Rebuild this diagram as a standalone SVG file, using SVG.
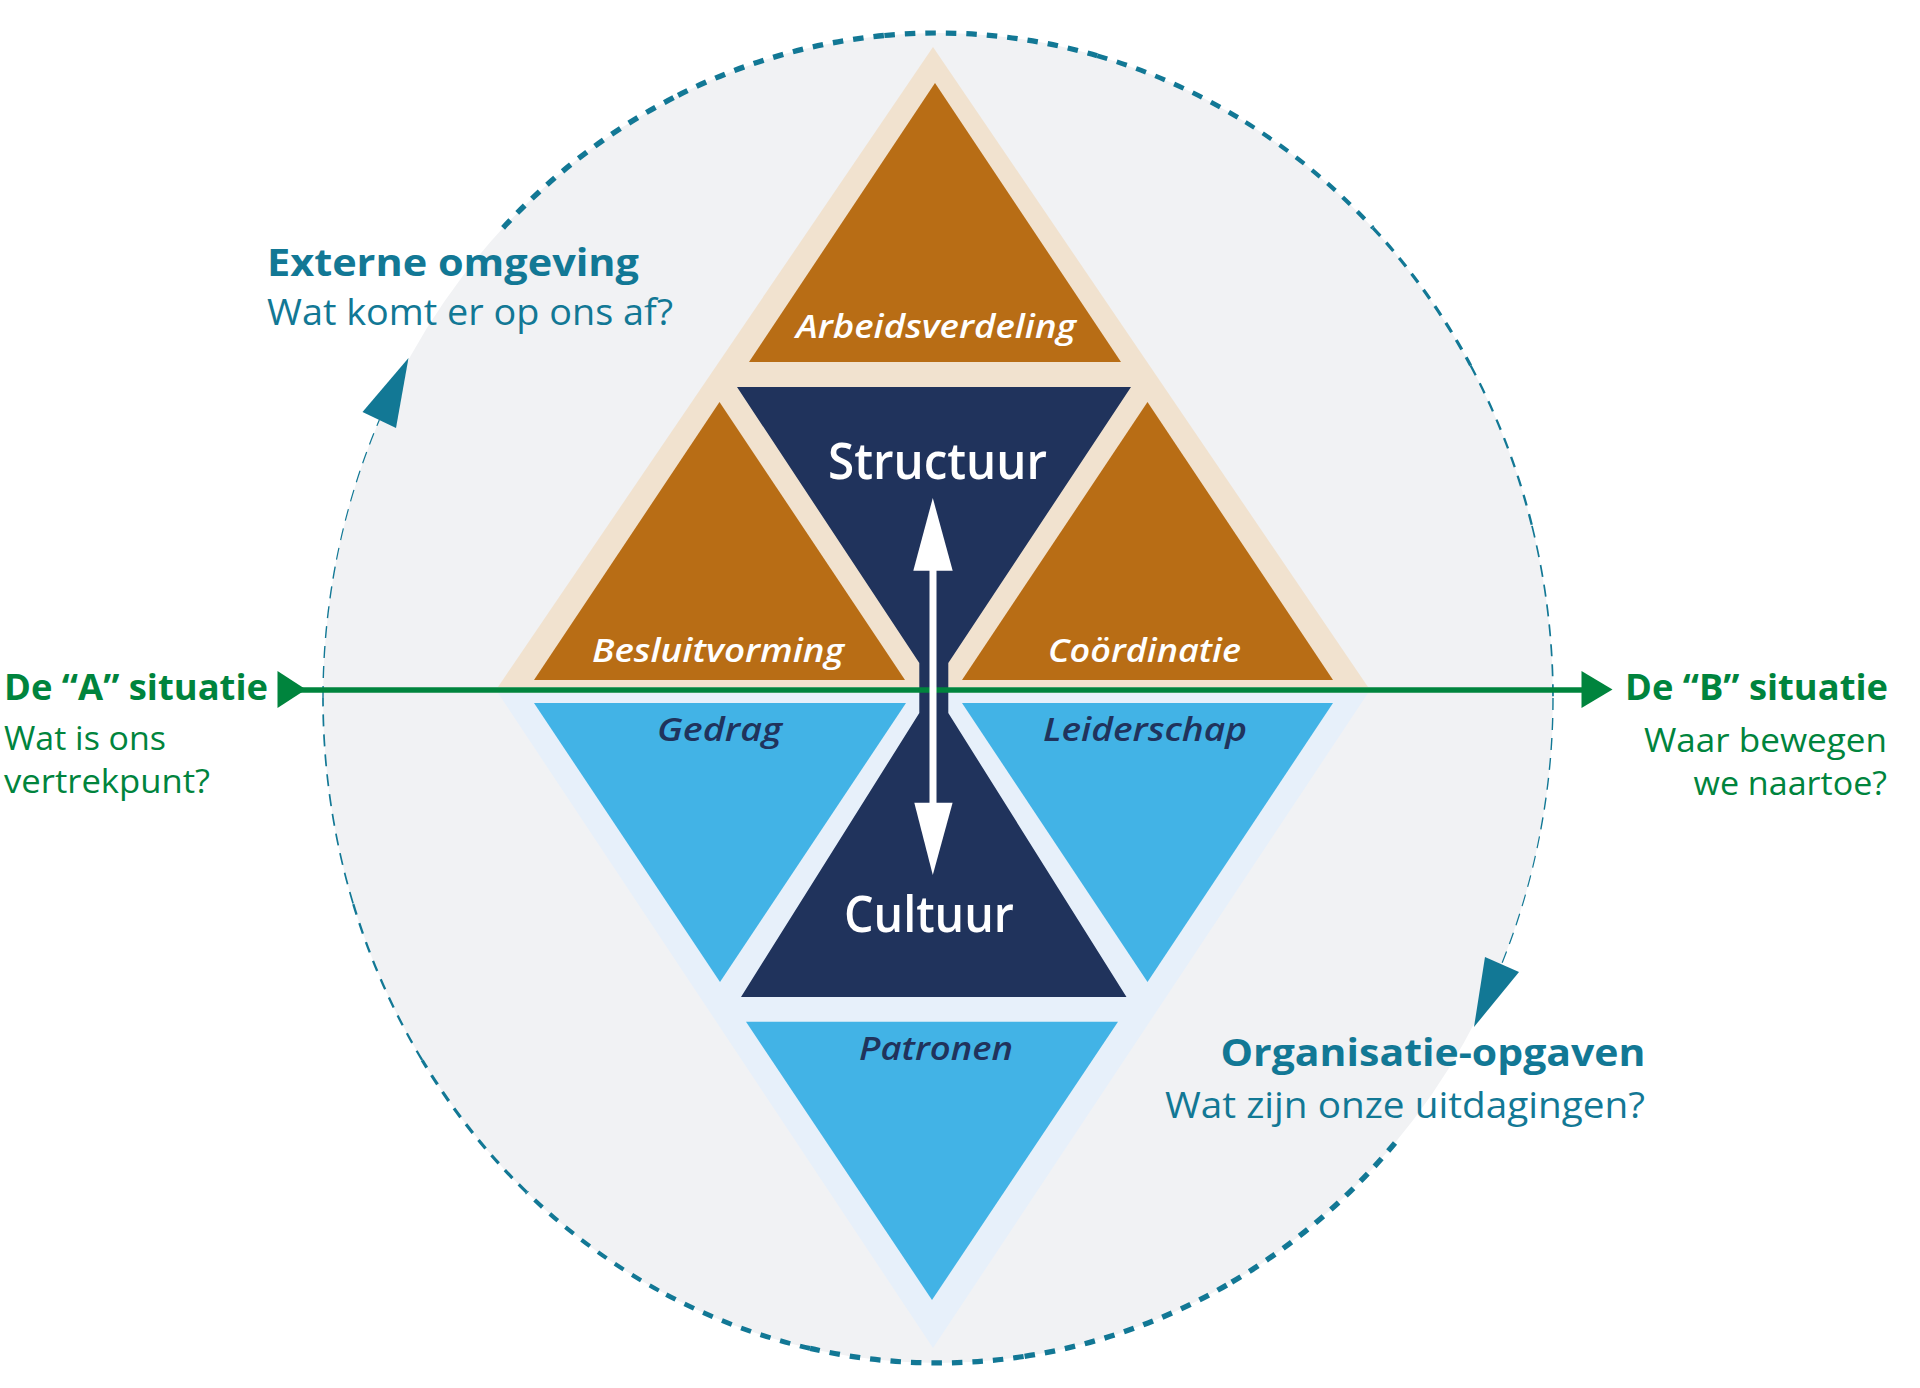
<svg xmlns="http://www.w3.org/2000/svg" width="1920" height="1388" viewBox="0 0 1920 1388">
  <style>
    text { font-family: "Open Sans", "Noto Sans", sans-serif; }
    .ring { fill: none; stroke: #127895; stroke-linecap: butt; }
    .d1 { stroke-dasharray: 10.5 10; }
    .d2 { stroke-dasharray: 11 9; }
    .d3 { stroke-dasharray: 12 8; }
    .beige { fill: #f1e2cf; }
    .pale { fill: #e7f0fa; }
    .orange { fill: #b86d15; }
    .navy { fill: #20335c; }
    .blue { fill: #42b3e6; }
    .lblw { fill: #ffffff; font-style: italic; font-weight: 600; font-size: 33px; }
    .lbln { fill: #20335c; font-style: italic; font-weight: 600; font-size: 33px; }
    .core { fill: #ffffff; font-weight: 600; font-size: 50px; }
    .tealH { fill: #127895; font-weight: 700; font-size: 38px; }
    .tealR { fill: #127895; font-weight: 400; font-size: 36px; }
    .greenH { fill: #00843d; font-weight: 700; font-size: 36px; }
    .greenR { fill: #00843d; font-weight: 400; font-size: 33px; }
  </style>

  <!-- background disc -->
  <ellipse id="disc" cx="938" cy="698" rx="615" ry="665" fill="#f1f2f4"/>

  <!-- cycle (dashed ring with arrowheads) -->
  <g id="cycle">
    <path class="ring d1" stroke-width="5.4" d="M503.1,227.8 A615,665 0 0 1 678.1,95.3"/>
    <path class="ring d1" stroke-width="5.4" d="M678.1,95.3 A615,665 0 0 1 884.4,35.5"/>
    <path class="ring d1" stroke-width="5.2" d="M884.4,35.5 A615,665 0 0 1 1097.2,55.7"/>
    <path class="ring d1" stroke-width="4.8" d="M1097.2,55.7 A615,665 0 0 1 1245.5,122.1"/>
    <path class="ring d1" stroke-width="4.2" d="M1245.5,122.1 A615,665 0 0 1 1372.9,227.8"/>
    <path class="ring d2" stroke-width="3.2" d="M1372.9,227.8 A615,665 0 0 1 1470.6,365.5"/>
    <path class="ring d2" stroke-width="2.3" d="M1470.6,365.5 A615,665 0 0 1 1532,525.9"/>
    <path class="ring d3" stroke-width="1.7" d="M1532,525.9 A615,665 0 0 1 1553,698"/>
    <path class="ring d3" stroke-width="1.4" d="M1553,698 A615,665 0 0 1 1539.5,836.3"/>
    <path class="ring d3" stroke-width="1.2" d="M1539.5,836.3 A615,665 0 0 1 1501.6,964.2"/>
    <polygon points="1485,957 1519,972 1474,1027" fill="#127895"/>

    <path class="ring d1" stroke-width="5.4" d="M1395,1143 A615,665 0 0 1 1226.7,1285.1"/>
    <path class="ring d1" stroke-width="5.4" d="M1226.7,1285.1 A615,665 0 0 1 1023.6,1356.5"/>
    <path class="ring d1" stroke-width="5.2" d="M1023.6,1356.5 A615,665 0 0 1 810.1,1348.4"/>
    <path class="ring d1" stroke-width="4.8" d="M810.1,1348.4 A615,665 0 0 1 658.8,1290.5"/>
    <path class="ring d1" stroke-width="4.2" d="M658.8,1290.5 A615,665 0 0 1 526.5,1192.2"/>
    <path class="ring d2" stroke-width="3.2" d="M526.5,1192.2 A615,665 0 0 1 422.2,1060.2"/>
    <path class="ring d2" stroke-width="2.3" d="M422.2,1060.2 A615,665 0 0 1 353.1,903.5"/>
    <path class="ring d3" stroke-width="1.7" d="M353.1,903.5 A615,665 0 0 1 323,698"/>
    <path class="ring d3" stroke-width="1.4" d="M323,698 A615,665 0 0 1 336.5,559.7"/>
    <path class="ring d3" stroke-width="1.2" d="M336.5,559.7 A615,665 0 0 1 379.3,420.1"/>
    <polygon points="362.5,412 396,428 408.5,358" fill="#127895"/>
  </g>

  <!-- outer bands -->
  <g id="structure-band">
    <polygon class="beige" points="933,47 1368,687 498,687"/>
  </g>
  <g id="culture-band">
    <polygon class="pale" points="498,693 1368,693 933,1348"/>
  </g>

  <g id="node-arbeidsverdeling">
    <polygon class="orange" points="935,83 1121,362 749,362"/>
    <text class="lblw" x="796" y="338" textLength="280" lengthAdjust="spacingAndGlyphs">Arbeidsverdeling</text>
  </g>
  <g id="node-besluitvorming">
    <polygon class="orange" points="719.5,402 905,680 534,680"/>
    <text class="lblw" x="592" y="662" textLength="252" lengthAdjust="spacingAndGlyphs">Besluitvorming</text>
  </g>
  <g id="node-coordinatie">
    <polygon class="orange" points="1147.5,402 1333,680 962,680"/>
    <text class="lblw" x="1048" y="662" textLength="193" lengthAdjust="spacingAndGlyphs">Coördinatie</text>
  </g>

  <g id="node-structuur-cultuur">
    <polygon class="navy" points="737,387 1131,387 948.3,663 948.3,713 1126.5,997 741,997 919.3,713 919.3,663"/>
    <text class="core" x="828" y="479" textLength="219" lengthAdjust="spacingAndGlyphs">Structuur</text>
    <text class="core" x="844" y="932" textLength="170" lengthAdjust="spacingAndGlyphs">Cultuur</text>
  </g>

  <g id="node-gedrag">
    <polygon class="blue" points="534,703 906,703 720,982"/>
    <text class="lbln" x="657" y="741" textLength="125" lengthAdjust="spacingAndGlyphs">Gedrag</text>
  </g>
  <g id="node-leiderschap">
    <polygon class="blue" points="962,703 1333,703 1147.5,982"/>
    <text class="lbln" x="1043" y="741" textLength="204" lengthAdjust="spacingAndGlyphs">Leiderschap</text>
  </g>
  <g id="node-patronen">
    <polygon class="blue" points="746,1021.7 1118,1021.7 932,1300"/>
    <text class="lbln" x="859" y="1060" textLength="154" lengthAdjust="spacingAndGlyphs">Patronen</text>
  </g>

  <!-- connectors -->
  <g id="connectors">
    <line x1="300" y1="690" x2="1584" y2="690" stroke="#00843d" stroke-width="5.5"/>
    <polygon points="277.5,671 306,689.5 277.5,708" fill="#00843d"/>
    <polygon points="1581.5,671 1612.5,689.5 1581.5,708" fill="#00843d"/>
    <rect x="929.5" y="568" width="7" height="237" fill="#ffffff"/>
    <polygon points="932.8,498 952.7,570.7 913.3,570.7" fill="#ffffff"/>
    <polygon points="914.3,802.7 952.6,802.7 932.8,875" fill="#ffffff"/>
  </g>

  <!-- outer labels -->
  <g id="label-extern">
    <text class="tealH" x="267" y="276" textLength="372" lengthAdjust="spacingAndGlyphs">Externe omgeving</text>
    <text class="tealR" x="267" y="325" textLength="406" lengthAdjust="spacingAndGlyphs">Wat komt er op ons af?</text>
  </g>
  <g id="label-a">
    <text class="greenH" x="4" y="700" textLength="264" lengthAdjust="spacingAndGlyphs">De “A” situatie</text>
    <text class="greenR" x="4" y="750" textLength="162" lengthAdjust="spacingAndGlyphs">Wat is ons</text>
    <text class="greenR" x="4" y="793" textLength="206" lengthAdjust="spacingAndGlyphs">vertrekpunt?</text>
  </g>
  <g id="label-b">
    <text class="greenH" x="1625" y="700" textLength="263" lengthAdjust="spacingAndGlyphs">De “B” situatie</text>
    <text class="greenR" x="1644" y="752" textLength="243" lengthAdjust="spacingAndGlyphs">Waar bewegen</text>
    <text class="greenR" x="1693.5" y="795" textLength="193.5" lengthAdjust="spacingAndGlyphs">we naartoe?</text>
  </g>
  <g id="label-organisatie">
    <text class="tealH" x="1220.5" y="1066" textLength="425" lengthAdjust="spacingAndGlyphs">Organisatie-opgaven</text>
    <text class="tealR" x="1165" y="1118" textLength="480" lengthAdjust="spacingAndGlyphs">Wat zijn onze uitdagingen?</text>
  </g>
</svg>
